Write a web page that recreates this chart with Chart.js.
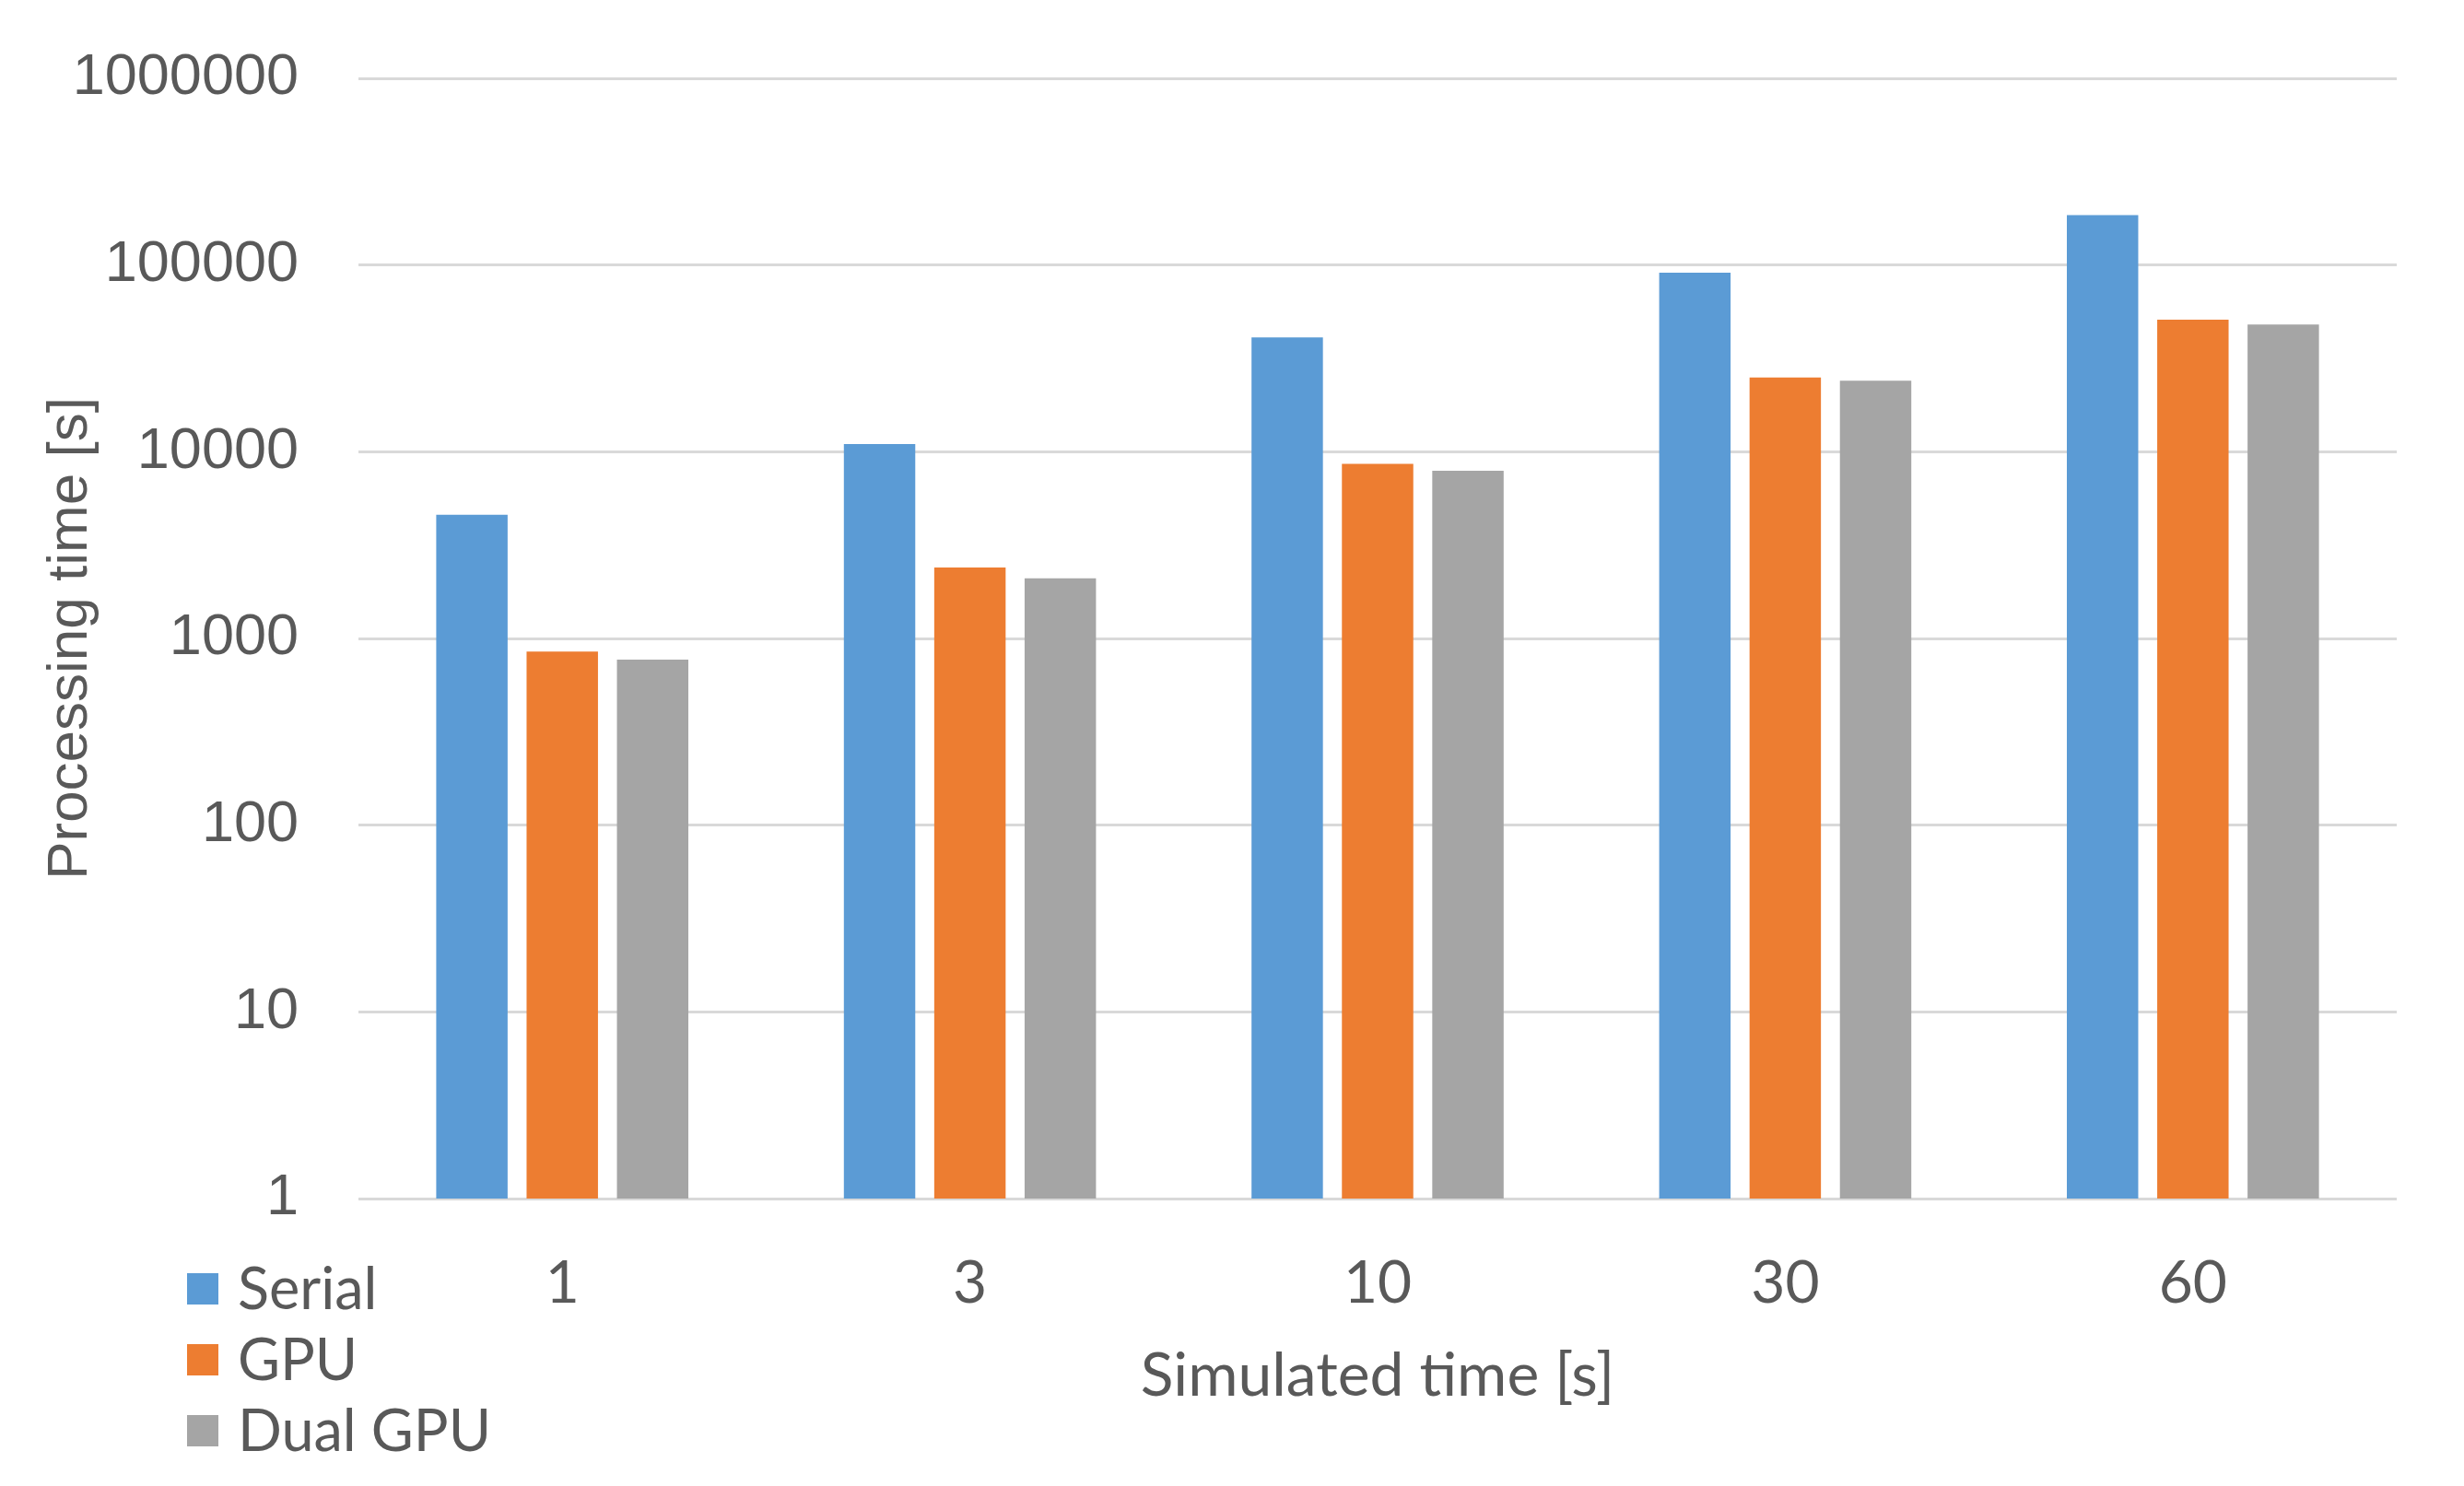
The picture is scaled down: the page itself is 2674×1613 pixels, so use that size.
<!DOCTYPE html>
<html lang="en">
<head>
<meta charset="utf-8">
<title>Processing time vs simulated time</title>
<script src="https://cdn.jsdelivr.net/npm/chart.js"></script>
<style>
  html, body { margin: 0; padding: 0; background: #fff; }
</style>
</head>
<body>
<canvas id="timeChart" width="2674" height="1613"></canvas>
<script>
// simulated time categories [s]
const labels = ['1', '3', '10', '30', '60'];
// processing time [s]
const serialTimes = [4600, 11000, 41000, 91000, 185000];
const gpuTimes = [850, 2400, 8600, 25000, 51000];
const dualGpuTimes = [770, 2100, 7900, 24000, 48000];
// y axis only shows the powers of ten
const yTicks = [1, 10, 100, 1000, 10000, 100000, 1000000];

const textColor = '#595959';
const sideFont = "'Liberation Sans', Arial, sans-serif";
const bottomFont = "Lato, 'Open Sans', sans-serif";

// legend stacked in the bottom-left corner, under the y labels
const cornerLegend = {
  id: 'cornerLegend',
  afterDraw(chart) {
    const c = chart.ctx;
    c.save();
    c.font = '63px ' + bottomFont;
    c.textBaseline = 'middle';
    c.textAlign = 'left';
    chart.data.datasets.forEach((ds, i) => {
      const y = 1399 + i * 77;
      c.fillStyle = ds.backgroundColor;
      c.fillRect(203, y - 17, 34, 34);
      c.fillStyle = textColor;
      c.fillText(ds.label, 258, y + 2);
    });
    c.restore();
  }
};

const ctx = document.getElementById('timeChart').getContext('2d');

new Chart(ctx, {
  type: 'bar',
  data: {
    labels: labels,
    datasets: [
      { label: 'Serial', data: serialTimes, backgroundColor: '#5B9BD5' },
      { label: 'GPU', data: gpuTimes, backgroundColor: '#ED7D31' },
      { label: 'Dual GPU', data: dualGpuTimes, backgroundColor: '#A5A5A5' }
    ]
  },
  options: {
    responsive: false,
    animation: false,
    devicePixelRatio: 1,
    categoryPercentage: 0.665,
    barPercentage: 0.79,
    layout: { padding: { left: 0, right: 73, top: 85, bottom: 0 } },
    plugins: {
      legend: { display: false },
      tooltip: { enabled: false }
    },
    scales: {
      x: {
        grid: { display: false, drawTicks: false },
        border: { display: false },
        ticks: {
          color: textColor,
          padding: 54,
          font: { family: bottomFont, size: 64 }
        },
        title: {
          display: true,
          text: 'Simulated time [s]',
          color: textColor,
          font: { family: bottomFont, size: 66 },
          padding: { top: 0, bottom: 80 }
        },
        afterFit(scale) { scale.height = 312; }
      },
      y: {
        type: 'logarithmic',
        min: 1,
        max: 1000000,
        grid: { color: '#D9D9D9', lineWidth: 3, drawTicks: false },
        border: { display: false },
        afterBuildTicks(scale) {
          scale.ticks = yTicks.map(v => ({ value: v }));
        },
        ticks: {
          color: textColor,
          padding: 65,
          font: { family: sideFont, size: 63 },
          callback: v => String(v)
        },
        title: {
          display: true,
          text: 'Processing time [s]',
          color: textColor,
          font: { family: sideFont, size: 62 },
          padding: { top: 40, bottom: 0 }
        },
        afterFit(scale) {
          scale.width = 389;
          // tick padding would otherwise push the plot top down
          scale.paddingTop = 0;
          scale.paddingBottom = 0;
        }
      }
    }
  },
  plugins: [cornerLegend]
});
</script>
</body>
</html>
